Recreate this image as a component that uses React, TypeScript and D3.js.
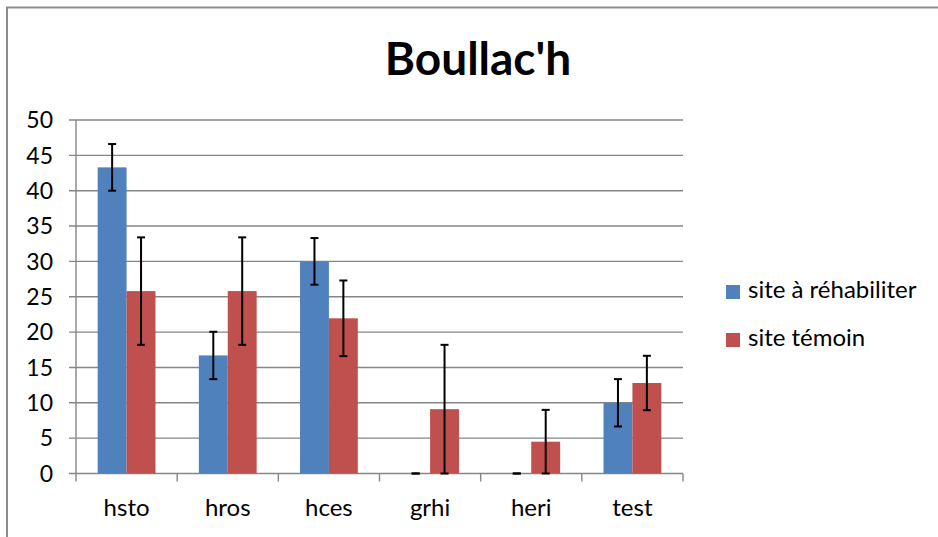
import React from "react";
import * as d3 from "d3";

const title = "Boullac'h";
const categories = ["hsto", "hros", "hces", "grhi", "heri", "test"];
const seriesNames = ["site à réhabiliter", "site témoin"];
const rehab = [43.3, 16.7, 30.0, 0, 0, 10.0];
const rehabErr = [3.3, 3.35, 3.3, 0, 0, 3.35];
const temoin = [25.8, 25.8, 21.95, 9.1, 4.5, 12.8];
const temoinErr = [7.6, 7.6, 5.35, 9.1, 4.5, 3.85];
const yTicks = [0, 5, 10, 15, 20, 25, 30, 35, 40, 45, 50];
const colors = ["#4F81BD", "#C0504D"];

const W = 938;
const H = 537;
const plot = { left: 76, right: 683, top: 120, bottom: 473.5 };
const font = "Lato, 'Open Sans', sans-serif";

export default function App() {
  const x = d3.scaleBand<string>().domain(categories).range([plot.left, plot.right]);
  const inner = d3
    .scaleBand<number>()
    .domain([0, 1])
    .range([0, x.bandwidth()])
    .paddingInner(0)
    .paddingOuter(0.75);
  const y = d3.scaleLinear().domain([0, 50]).range([plot.bottom, plot.top]);
  const series = [
    { vals: rehab, errs: rehabErr },
    { vals: temoin, errs: temoinErr },
  ];
  const grid = "#868686";
  const xTickPos = categories.map((c) => x(c)!).concat([plot.right]);

  return (
    <svg
      width={W}
      height={H}
      style={{ position: "absolute", left: 0, top: 0, background: "#fff" }}
      fontFamily={font}
    >
      <rect x={0} y={0} width={W} height={H} fill="#fff" />
      <path d={`M7,${H} L7,7.5 L${W},7.5`} fill="none" stroke="#8c8c8c" strokeWidth={2} />
      <text x={478} y={75} textAnchor="middle" fontSize={46} fontWeight="bold" fill="#000">
        {title}
      </text>
      {yTicks.map((t) => (
        <g key={t}>
          <line x1={plot.left - 7} x2={plot.right} y1={y(t)} y2={y(t)} stroke={grid} strokeWidth={1.4} />
          <text x={53} y={y(t)} dy="0.36em" textAnchor="end" fontSize={23} fill="#000">
            {t}
          </text>
        </g>
      ))}
      <line x1={plot.left} x2={plot.left} y1={plot.top} y2={plot.bottom} stroke={grid} strokeWidth={1.4} />
      {xTickPos.map((p, i) => (
        <line key={i} x1={p} x2={p} y1={plot.bottom} y2={plot.bottom + 8} stroke={grid} strokeWidth={1.4} />
      ))}
      {series.map((s, si) =>
        categories.map((c, ci) => {
          const bx = x(c)! + inner(si)!;
          return (
            <rect
              key={`${si}-${ci}`}
              x={bx}
              y={y(s.vals[ci])}
              width={inner.bandwidth()}
              height={y(0) - y(s.vals[ci])}
              fill={colors[si]}
            />
          );
        })
      )}
      {series.map((s, si) =>
        categories.map((c, ci) => {
          const cx = x(c)! + inner(si)! + inner.bandwidth() / 2;
          const hi = y(s.vals[ci] + s.errs[ci]);
          const lo = y(Math.max(0, s.vals[ci] - s.errs[ci]));
          return (
            <g key={`e${si}-${ci}`} stroke="#000" strokeWidth={2}>
              <line x1={cx} x2={cx} y1={hi} y2={lo} />
              <line x1={cx - 4} x2={cx + 4} y1={hi} y2={hi} />
              <line x1={cx - 4} x2={cx + 4} y1={lo} y2={lo} />
            </g>
          );
        })
      )}
      {categories.map((c) => (
        <text key={c} x={x(c)! + x.bandwidth() / 2} y={516} textAnchor="middle" fontSize={24} fill="#000">
          {c}
        </text>
      ))}
      {seriesNames.map((n, i) => (
        <g key={n} transform={`translate(726, ${285 + i * 48})`}>
          <rect x={0} y={0} width={14} height={14} fill={colors[i]} />
          <text x={22} y={13} fontSize={24} fill="#000">
            {n}
          </text>
        </g>
      ))}
    </svg>
  );
}
